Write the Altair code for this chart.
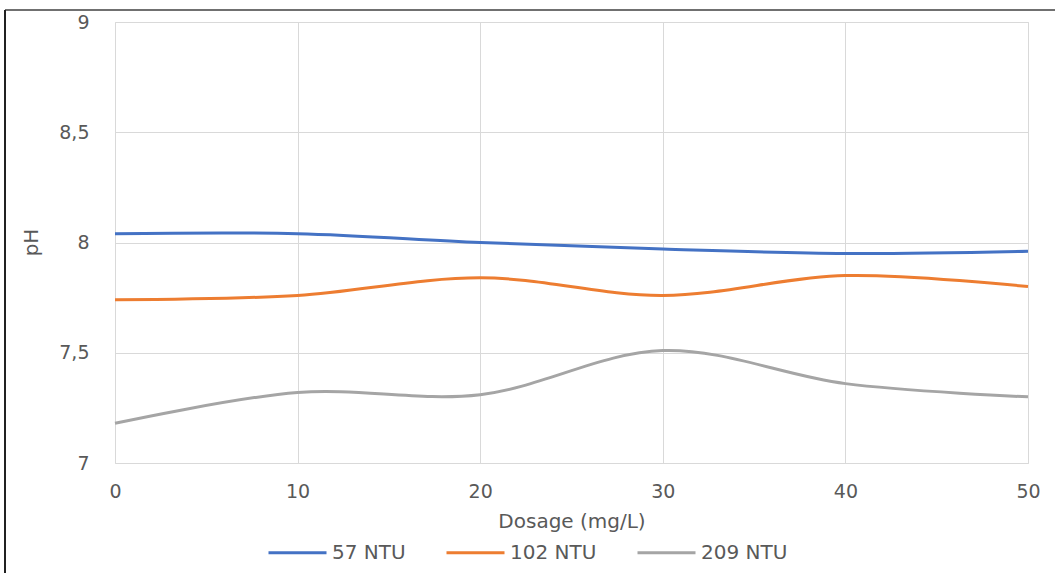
import altair as alt
import pandas as pd

dosage = [0, 10, 20, 30, 40, 50]
series_names = ["57 NTU", "102 NTU", "209 NTU"]
ph_57 = [8.04, 8.04, 8.00, 7.97, 7.95, 7.96]
ph_102 = [7.74, 7.76, 7.84, 7.76, 7.85, 7.80]
ph_209 = [7.18, 7.32, 7.31, 7.51, 7.36, 7.30]
colors = ["#4472C4", "#ED7D31", "#A5A5A5"]

rows = []
for name, vals in zip(series_names, [ph_57, ph_102, ph_209]):
    for d, v in zip(dosage, vals):
        rows.append({"Dosage": d, "pH": v, "Series": name})
df = pd.DataFrame(rows)

FONT = "DejaVu Sans"
GREY = "#595959"

lines = alt.Chart(df).mark_line(interpolate="cardinal", strokeWidth=3).encode(
    x=alt.X("Dosage:Q", scale=alt.Scale(domain=[0, 50], nice=False),
            axis=alt.Axis(values=[0, 10, 20, 30, 40, 50], title="Dosage (mg/L)",
                          grid=True, gridColor="#d9d9d9", domain=False, ticks=False,
                          labelFlush=False,
                          labelFont=FONT, labelFontSize=19, labelColor=GREY, labelPadding=19,
                          titleFont=FONT, titleFontSize=20, titleColor=GREY, titleFontWeight="normal",
                          titleY=58, titleBaseline="middle")),
    y=alt.Y("pH:Q", scale=alt.Scale(domain=[7, 9], nice=False, zero=False),
            axis=alt.Axis(values=[7, 7.5, 8, 8.5, 9], title="pH",
                          labelExpr="replace(format(datum.value, '~g'), '.', ',')",
                          grid=True, gridColor="#d9d9d9", domain=False, ticks=False,
                          labelFlush=False,
                          labelFont=FONT, labelFontSize=19, labelColor=GREY, labelPadding=26,
                          titleFont=FONT, titleFontSize=20, titleColor=GREY, titleFontWeight="normal",
                          titleX=-84, titleY=220, titleAlign="center", titleBaseline="middle")),
    color=alt.Color("Series:N", sort=series_names,
                    scale=alt.Scale(domain=series_names, range=colors),
                    legend=alt.Legend(title=None, orient="none", direction="horizontal",
                                      legendX=152, legendY=500,
                                      symbolType="stroke", symbolStrokeWidth=3, symbolSize=3364,
                                      labelFont=FONT, labelFontSize=20, labelColor=GREY,
                                      labelOffset=4, columnPadding=34)),
)

frame_top = alt.Chart(df).mark_rule(color="#707070", strokeWidth=2).encode(
    x=alt.value(-110), x2=alt.value(940), y=alt.value(-12)
)
frame_left = alt.Chart(df).mark_rule(color="#222222", strokeWidth=1.5).encode(
    x=alt.value(-110), y=alt.value(-12), y2=alt.value(551)
)

chart = alt.layer(lines, frame_top, frame_left).properties(
    width=913, height=441,
    autosize=alt.AutoSizeParams(type="none"),
    padding={"left": 115, "top": 22, "right": 27, "bottom": 110},
).configure_view(stroke="#d9d9d9").configure(background="white")

chart.save("out.html", embed_options={"renderer": "svg", "actions": False})
